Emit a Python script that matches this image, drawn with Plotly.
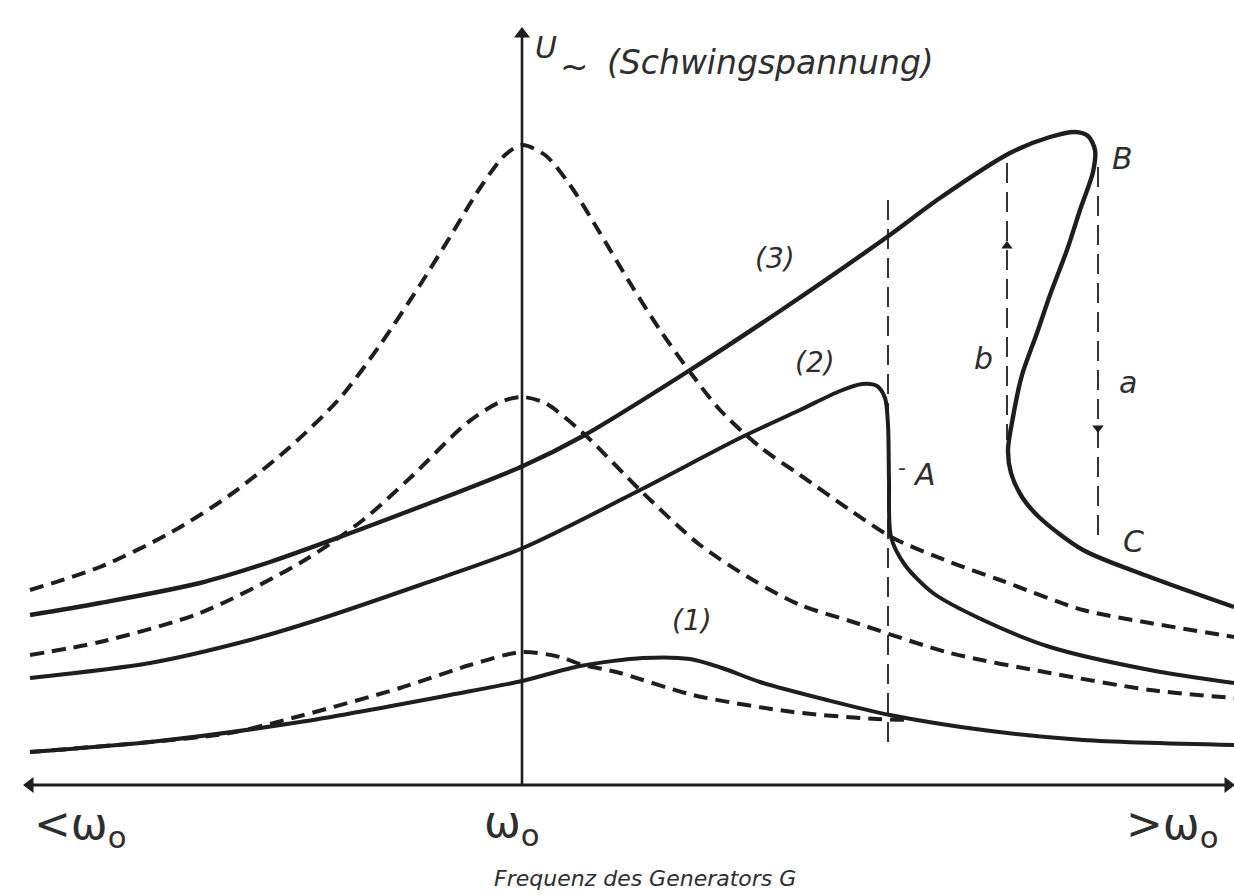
import plotly.graph_objects as go

# ---- data (diagram coordinates: x = frequency position, y = screen depth, 0 at top) ----
res3_dash_x = [30, 100, 170, 230, 290, 340, 380, 420, 450, 480, 505, 522, 545, 570, 600, 630, 660, 690, 720, 760, 800, 850, 893, 950, 1000, 1083, 1150, 1234]
res3_dash_y = [590, 567, 533, 495, 447, 398, 345, 285, 237, 188, 155, 145, 155, 185, 233, 283, 330, 372, 410, 447, 475, 510, 538, 562, 580, 610, 623, 637]

res2_dash_x = [30, 100, 200, 300, 363, 410, 467, 500, 522, 545, 583, 642, 700, 753, 800, 850, 950, 1050, 1150, 1234]
res2_dash_y = [655, 642, 613, 563, 520, 478, 423, 402, 397, 403, 433, 492, 545, 580, 605, 621, 653, 673, 690, 698]

res1_dash_x = [30, 150, 230, 300, 400, 470, 522, 560, 580, 620, 693, 793, 877, 912]
res1_dash_y = [752, 742, 733, 716, 688, 665, 652, 657, 664, 673, 695, 712, 719, 720]

curve3_x = [30, 100, 200, 270, 340, 430, 523, 583, 687, 780, 887, 940, 1010, 1050, 1075, 1088, 1095, 1093, 1080, 1067, 1050, 1037, 1022, 1013, 1008, 1011, 1022, 1040, 1083, 1150, 1234]
curve3_y = [615, 603, 583, 562, 537, 503, 466, 436, 372, 311, 237, 198, 153, 137, 132, 136, 150, 172, 210, 250, 295, 333, 375, 417, 450, 473, 497, 518, 550, 577, 607]

curve2_x = [30, 150, 250, 317, 420, 523, 642, 740, 800, 840, 862, 877, 885, 888, 889, 891, 905, 933, 983, 1050, 1150, 1234]
curve2_y = [678, 663, 640, 620, 585, 548, 489, 438, 410, 391, 384, 386, 398, 425, 480, 537, 565, 593, 620, 647, 670, 683]

curve1_x = [30, 150, 300, 450, 522, 580, 643, 690, 722, 760, 827, 890, 983, 1083, 1234]
curve1_y = [752, 742, 722, 695, 681, 666, 658, 659, 668, 682, 700, 715, 730, 740, 745]

jumpA_x = [888, 888]
jumpA_y = [200, 745]
jump_b_x = [1007, 1007]
jump_b_y = [163, 440]
jump_a_x = [1098, 1098]
jump_a_y = [167, 540]

haxis_x = [30, 1228]
haxis_y = [785, 785]
vaxis_x = [522, 522]
vaxis_y = [785, 34]

INK = "#1e1e1e"
TXT = "#2e2e2e"
fig = go.Figure()


def trace(x, y, dash, width, shape="spline"):
    fig.add_trace(go.Scatter(x=x, y=y, mode="lines",
                             line=dict(color=INK, width=width, dash=dash, shape=shape, smoothing=0.8),
                             hoverinfo="skip", showlegend=False))


trace(res3_dash_x, res3_dash_y, "14px,8px", 4)
trace(res2_dash_x, res2_dash_y, "14px,8px", 4)
trace(res1_dash_x, res1_dash_y, "14px,8px", 4)
trace(curve3_x, curve3_y, "solid", 4.4)
trace(curve2_x, curve2_y, "solid", 4)
trace(curve1_x, curve1_y, "solid", 4)

for vx, vy in [(jumpA_x, jumpA_y), (jump_b_x, jump_b_y), (jump_a_x, jump_a_y)]:
    trace(vx, vy, "20px,9px", 1.8, "linear")

# axes
trace(haxis_x, haxis_y, "solid", 2.8, "linear")
trace(vaxis_x, vaxis_y, "solid", 2.6, "linear")


def head(x, y, sym, size):
    fig.add_trace(go.Scatter(x=[x], y=[y], mode="markers",
                             marker=dict(symbol=sym, size=size, color=INK, line=dict(width=0)),
                             hoverinfo="skip", showlegend=False))


head(vaxis_x[1], vaxis_y[1], "triangle-up", 14)
head(haxis_x[0], haxis_y[0], "triangle-left", 14)
head(haxis_x[1], haxis_y[1], "triangle-right", 14)
head(1007, 246, "triangle-up", 10)
head(1098, 428, "triangle-down", 10)

FONT = "DejaVu Sans"
labels = [
    ("U", 546, 47, 30, "center", True),
    ("~", 574, 66, 34, "center", False),
    ("(Schwingspannung)", 605, 62, 33, "left", True),
    ("(3)", 775, 258, 28, "center", True),
    ("(2)", 815, 362, 28, "center", True),
    ("(1)", 692, 620, 28, "center", True),
    ("-", 902, 467, 22, "center", False),
    ("A", 924, 474, 30, "center", True),
    ("B", 1122, 158, 30, "center", True),
    ("b", 983, 358, 30, "center", True),
    ("a", 1128, 382, 30, "center", True),
    ("C", 1133, 541, 30, "center", True),
    ("<ω<sub>o</sub>", 80, 826, 44, "center", False),
    ("ω<sub>o</sub>", 512, 824, 44, "center", False),
    (">ω<sub>o</sub>", 1172, 826, 44, "center", False),
    ("Frequenz des Generators G", 645, 878, 22, "center", True),
]
for txt, x, y, size, anchor, ital in labels:
    t = f"<i>{txt}</i>" if ital else txt
    fig.add_annotation(x=x, y=y, text=t, showarrow=False, xref="x", yref="y",
                       xanchor=anchor, yanchor="middle",
                       font=dict(family=FONT, size=size, color=TXT))

fig.update_xaxes(range=[0, 1234], visible=False, fixedrange=True)
fig.update_yaxes(range=[895, 0], visible=False, fixedrange=True)
fig.update_layout(width=1234, height=895, margin=dict(l=0, r=0, t=0, b=0),
                  plot_bgcolor="white", paper_bgcolor="white")

fig.write_html("out.html", config={"displayModeBar": False},
               post_script="document.body.style.margin='0';document.body.style.overflow='hidden';")
